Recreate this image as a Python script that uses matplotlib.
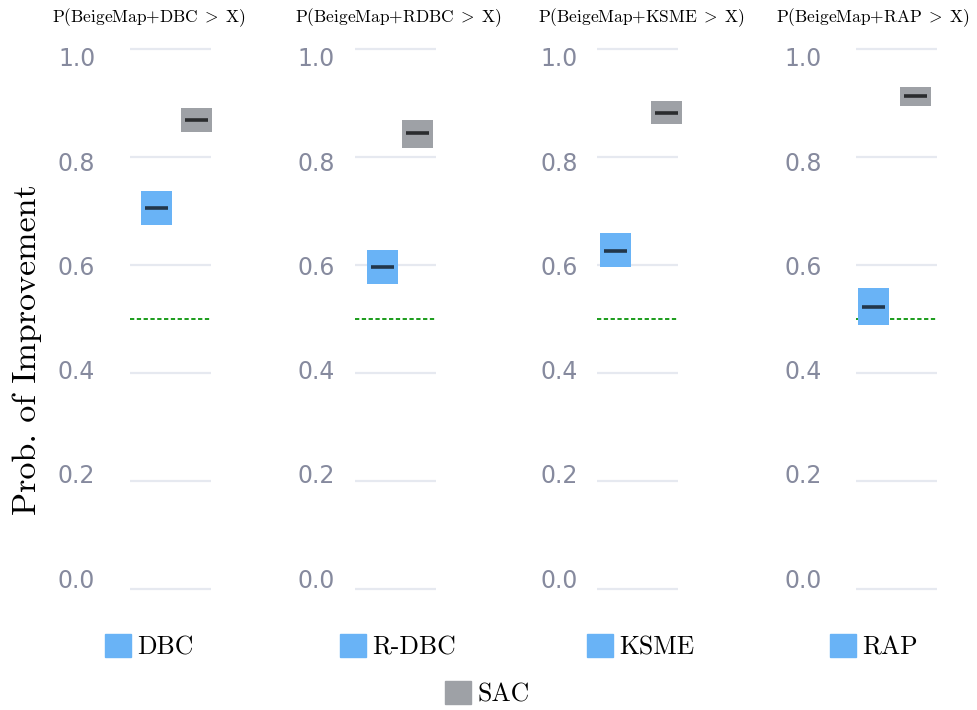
import matplotlib
matplotlib.use("Agg")
import matplotlib.pyplot as plt
from matplotlib.patches import Patch

plt.rcParams['mathtext.fontset'] = 'cm'

# data
panels = ['DBC', 'RDBC', 'KSME', 'RAP']
legend_names = ['DBC', 'R-DBC', 'KSME', 'RAP']
method_lo = [0.674, 0.565, 0.596, 0.489]
method_mid = [0.706, 0.596, 0.626, 0.522]
method_hi = [0.737, 0.628, 0.659, 0.557]
sac_lo = [0.846, 0.817, 0.861, 0.894]
sac_mid = [0.869, 0.844, 0.881, 0.913]
sac_hi = [0.891, 0.869, 0.904, 0.930]
yticks = [0.0, 0.2, 0.4, 0.6, 0.8, 1.0]

# layout (pixels in a 977x710 figure)
W, H = 977, 710
ax_left = [130, 355, 597, 856]
ax_w = 81
tick_pad = [25, 14.5, 14, 24.5]
blue_x = [0.327, 0.340, 0.228, 0.216]
gray_x = [0.821, 0.772, 0.858, 0.735]
title_x = [149, 398, 641, 873]
legend_x = [105, 340, 587, 830]

BLUE = '#69b3f6'
GRAY = '#9ea1a6'
box_w = 0.383
med_w = 0.28

y_top, y_bot = 49, 589      # gridline 1.0 / 0.0
lab_top, lab_bot = 57, 578  # tick label 1.0 / 0.0 (labels sit on their own scale)
pad = 0.02
fig = plt.figure(figsize=(W / 100, H / 100), dpi=100)

for i in range(4):
    span = y_bot - y_top
    bottom_px = y_bot + pad * span
    top_px = y_top - pad * span
    ax = fig.add_axes([ax_left[i] / W, 1 - bottom_px / H, ax_w / W, (bottom_px - top_px) / H])
    ax.set_xlim(0, 1)
    ax.set_ylim(-pad, 1 + pad)
    for s in ax.spines.values():
        s.set_visible(False)
    ax.set_xticks([])
    ax.set_yticks(yticks)
    ax.tick_params(axis='y', length=0, labelleft=False)
    ax.grid(axis='y', color='#e6e9f0', linewidth=1.6)
    ax.set_axisbelow(True)

    # separate invisible axes carrying the tick labels
    lab = fig.add_axes([ax_left[i] / W, 1 - lab_bot / H, ax_w / W, (lab_bot - lab_top) / H])
    lab.patch.set_visible(False)
    lab.set_ylim(0, 1)
    for s in lab.spines.values():
        s.set_visible(False)
    lab.set_xticks([])
    lab.set_yticks(yticks)
    lab.set_yticklabels([f'{t:.1f}' for t in yticks])
    lab.tick_params(axis='y', length=0, pad=tick_pad[i], labelsize=17, labelcolor='#868a9e')

    ax.axhline(0.5, color='#1a9c1a', linestyle=(0, (2.2, 1.3)), linewidth=1.4, zorder=1)

    ax.bar(blue_x[i], method_hi[i] - method_lo[i], bottom=method_lo[i], width=box_w,
           color=BLUE, zorder=2, clip_on=False)
    ax.bar(gray_x[i], sac_hi[i] - sac_lo[i], bottom=sac_lo[i], width=box_w,
           color=GRAY, zorder=2, clip_on=False)
    ax.hlines(method_mid[i], blue_x[i] - med_w / 2, blue_x[i] + med_w / 2,
              color='#22364a', linewidth=2.6, zorder=3, clip_on=False)
    ax.hlines(sac_mid[i], gray_x[i] - med_w / 2, gray_x[i] + med_w / 2,
              color='#2a2c2e', linewidth=2.6, zorder=3, clip_on=False)

    fig.text(title_x[i] / W, 1 - 18 / H,
             r'$\mathrm{P(BeigeMap{+}' + panels[i] + r'}\;>\;\mathrm{X)}$',
             ha='center', va='center', fontsize=12.5)

fig.text(27 / W, 1 - 350 / H, 'Prob. of Improvement', family='cmr10',
         rotation=90, ha='center', va='center', fontsize=24.5)

for i, name in enumerate(legend_names):
    fig.legend(handles=[Patch(color=BLUE, label=name)], loc='center left',
               bbox_to_anchor=(legend_x[i] / W, 1 - 647 / H), frameon=False,
               borderpad=0, borderaxespad=0, handlelength=1.0, handleheight=1.0,
               handletextpad=0.27, prop={'family': 'cmr10', 'size': 18.5})
fig.legend(handles=[Patch(color=GRAY, label='SAC')], loc='center left',
           bbox_to_anchor=(445 / W, 1 - 694 / H), frameon=False,
           borderpad=0, borderaxespad=0, handlelength=1.0, handleheight=1.0,
           handletextpad=0.27, prop={'family': 'cmr10', 'size': 18.5})

fig.savefig('out.png', dpi=100)
